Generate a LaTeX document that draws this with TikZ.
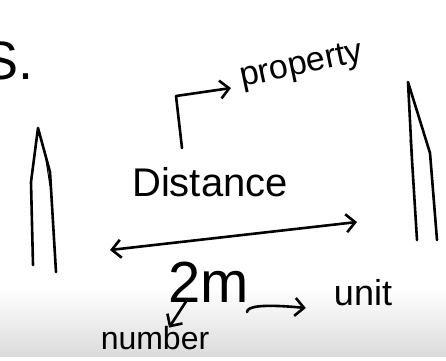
\documentclass[tikz,border=0pt]{standalone}
\usepackage{fontspec}
\setmainfont{Liberation Sans}
\usetikzlibrary{arrows.meta}
\tikzset{
  hand/.style={line width=2.6pt, line cap=round, line join=round},
  barb/.style={hand, -{Straight Barb[length=9pt, width=18pt]}},
  word/.style={inner sep=0pt, anchor=base}
}
\begin{document}
\begin{tikzpicture}[x=1pt, y=-1pt]
    \useasboundingbox (0,0) rectangle (446,360);
    \clip (0,0) rectangle (446,360);

    % paper edge at the bottom
    \shade[top color=white, bottom color=gray!28] (0,288) rectangle (446,356);

    % corner of the page text
    \node[word, anchor=base east] (sdot) at (34,79) {\fontsize{54}{54}\selectfont S.};

    % left pole
    \draw[hand] (33,265) -- (31,182) -- (38,128) -- (50,172) -- (56,272);
    \draw[hand, line width=1pt] (46,160) -- (50,186);

    % right pole
    \draw[hand] (417,240) -- (412,160) -- (408,82) -- (430,153) -- (437,240);
    \draw[hand, line width=1pt] (410,140) -- (413,172);

    % texts
    \node[word] (dist) at (210,196) {\fontsize{40}{40}\selectfont Distance};
    \node[word, rotate=12] (prop) at (303,74) {\fontsize{34}{34}\selectfont property};
    \node[word] (twom) at (209,302) {\fontsize{58}{58}\selectfont 2m};
    \node[word] (numb) at (155,349) {\fontsize{32}{32}\selectfont number};
    \node[word] (unit) at (363,305) {\fontsize{36}{36}\selectfont unit};

    % Distance -> property
    \coordinate (pstart) at (182,148);
    \coordinate (pend) at (231,88);
    \draw[barb] (pstart) -- (176,96) -- (pend);

    % the span between the poles
    \coordinate (spanl) at (110,250);
    \coordinate (spanr) at (357,222);
    \draw[hand, {Straight Barb[length=9pt, width=18pt]}-{Straight Barb[length=9pt, width=18pt]}] (spanl) -- (spanr);

    % 2m -> number, 2m -> unit
    \draw[barb] ([xshift=-22pt, yshift=2pt]twom.base) -- ([xshift=14pt, yshift=-2pt]numb.north);
    \draw[barb] ([xshift=38pt, yshift=-10pt]twom.base) .. controls (247,306) and (264,304) .. ([xshift=-28pt, yshift=-3pt]unit.base west);
\end{tikzpicture}
\end{document}
